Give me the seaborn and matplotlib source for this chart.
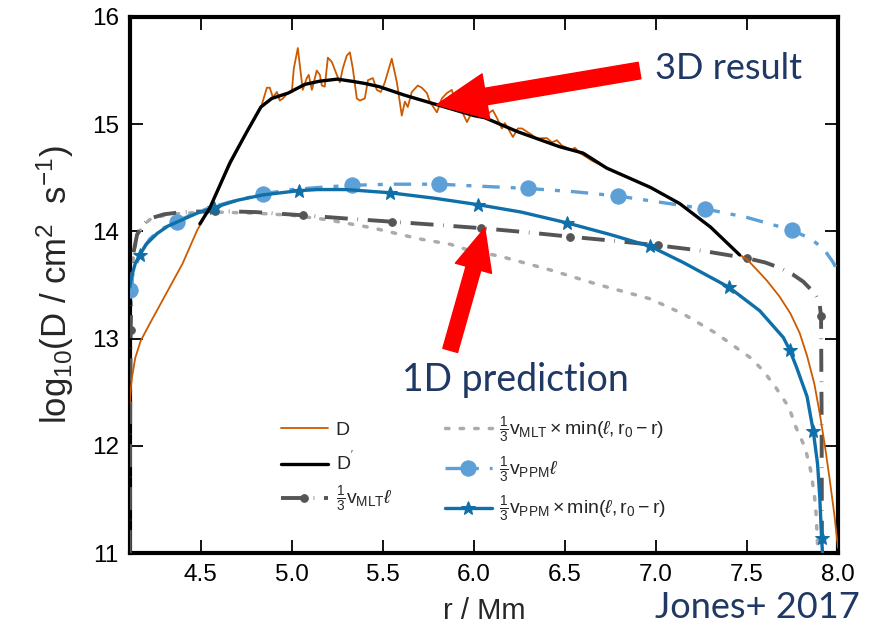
import numpy as np
import pandas as pd
import matplotlib
matplotlib.use("Agg")
import matplotlib.pyplot as plt
import seaborn as sns

# ---- diffusion coefficient profiles, log10(D / cm^2 s^-1) vs r / Mm ----
d_r = [4.11, 4.12, 4.14, 4.17, 4.22, 4.31, 4.40, 4.48, 4.55, 4.66, 4.75, 4.83,
       4.84, 4.863, 4.879, 4.896, 4.918, 4.934, 4.951, 4.978, 5.0, 5.011,
       5.033, 5.044, 5.06, 5.082, 5.093, 5.11, 5.121, 5.137, 5.154, 5.165,
       5.181, 5.198, 5.22, 5.247, 5.264, 5.28, 5.302, 5.319, 5.335, 5.357,
       5.374, 5.401, 5.418, 5.445, 5.467, 5.489, 5.511, 5.549, 5.577, 5.604,
       5.621, 5.637, 5.659, 5.692, 5.714, 5.742, 5.758, 5.797, 5.824, 5.852,
       5.879, 5.896, 5.923, 5.962, 5.989, 6.016, 6.044, 6.06, 6.088, 6.104,
       6.126, 6.154, 6.17, 6.198, 6.214, 6.242, 6.264, 6.291, 6.319, 6.346,
       6.374, 6.401, 6.429, 6.456, 6.484, 6.511, 6.538, 6.555, 6.582, 6.621,
       6.648, 6.73, 6.97, 7.13, 7.30, 7.46, 7.50, 7.55, 7.61, 7.68, 7.74, 7.79,
       7.83, 7.87, 7.90, 7.93, 7.955, 7.98, 8.00]
d_val = [12.40, 12.62, 12.82, 12.98, 13.14, 13.42, 13.70, 14.01, 14.22, 14.62, 14.92, 15.15,
         15.21, 15.34, 15.34, 15.25, 15.30, 15.22, 15.24, 15.29, 15.30, 15.52,
         15.71, 15.55, 15.32, 15.43, 15.46, 15.32, 15.39, 15.50, 15.46, 15.36,
         15.35, 15.62, 15.58, 15.46, 15.39, 15.52, 15.64, 15.67, 15.52, 15.24,
         15.22, 15.24, 15.41, 15.43, 15.32, 15.30, 15.39, 15.61, 15.39, 15.08,
         15.21, 15.16, 15.30, 15.36, 15.34, 15.29, 15.21, 15.11, 15.24, 15.29,
         15.32, 15.21, 15.16, 15.02, 15.11, 15.08, 15.18, 15.07, 15.11, 15.13,
         15.06, 14.96, 15.01, 14.93, 14.88, 14.96, 14.96, 14.93, 14.90, 14.86,
         14.87, 14.87, 14.83, 14.85, 14.80, 14.78, 14.76, 14.78, 14.73, 14.69,
         14.66, 14.59, 14.41, 14.26, 14.04, 13.78, 13.74, 13.65, 13.54, 13.39, 13.23, 13.05,
         12.84, 12.58, 12.30, 11.98, 11.68, 11.36, 11.05]

dp_r = [4.495, 4.55, 4.66, 4.75, 4.83, 4.89, 4.98, 5.07, 5.15, 5.25, 5.33, 5.40,
        5.48, 5.62, 5.80, 6.00, 6.06, 6.24, 6.47, 6.60, 6.73, 6.97, 7.13, 7.30, 7.46]
dp_val = [14.07, 14.22, 14.64, 14.92, 15.16, 15.24, 15.29, 15.37, 15.40, 15.42, 15.40, 15.38,
          15.35, 15.27, 15.18, 15.08, 15.06, 14.93, 14.79, 14.73, 14.59, 14.41, 14.26, 14.04, 13.78]

mlt_r = [4.110, 4.112, 4.115, 4.12, 4.13, 4.15, 4.18, 4.22, 4.30, 4.40, 4.58, 4.80,
         5.06, 5.30, 5.55, 5.80, 6.04, 6.30, 6.53, 6.78, 7.01, 7.25, 7.50, 7.60,
         7.68, 7.75, 7.81, 7.85, 7.88, 7.90, 7.907, 7.910, 7.912]
mlt_val = [11.0, 12.3, 13.08, 13.55, 13.80, 13.97, 14.06, 14.12, 14.16, 14.18, 14.19, 14.18,
           14.15, 14.12, 14.09, 14.06, 14.03, 13.99, 13.95, 13.91, 13.87, 13.82, 13.75, 13.71,
           13.66, 13.60, 13.53, 13.46, 13.39, 13.31, 13.21, 12.3, 11.0]
mlt_marks = [2, 10, 12, 14, 16, 18, 20, 22, 30]

mltmin_r = [4.110, 4.113, 4.12, 4.13, 4.15, 4.18, 4.22, 4.30, 4.40, 4.58, 4.80, 5.00,
            5.19, 5.45, 5.70, 5.87, 5.98, 6.14, 6.42, 6.69, 6.97, 7.15, 7.33, 7.52,
            7.59, 7.66, 7.73, 7.77, 7.82, 7.85, 7.87, 7.88, 7.89]
mltmin_val = [11.0, 12.9, 13.5, 13.78, 13.96, 14.05, 14.11, 14.15, 14.17, 14.18, 14.17, 14.15,
              14.11, 14.03, 13.93, 13.88, 13.82, 13.77, 13.64, 13.50, 13.37, 13.23, 13.05, 12.82,
              12.70, 12.54, 12.36, 12.17, 11.98, 11.77, 11.55, 11.36, 11.0]

ppm_r = [4.11, 4.13, 4.17, 4.22, 4.28, 4.37, 4.45, 4.55, 4.65, 4.75, 4.84, 5.0, 5.15,
         5.33, 5.55, 5.81, 6.05, 6.30, 6.55, 6.79, 7.03, 7.27, 7.5, 7.75, 7.85, 7.92,
         7.97, 8.0]
ppm_val = [13.45, 13.62, 13.80, 13.93, 14.02, 14.09, 14.16, 14.22, 14.27, 14.31, 14.35, 14.39,
           14.41, 14.43, 14.44, 14.44, 14.42, 14.40, 14.37, 14.33, 14.27, 14.21, 14.13, 14.01,
           13.93, 13.84, 13.72, 13.63]
ppm_marks = [0, 5, 10, 13, 15, 17, 19, 21, 23]

ppmmin_r = [4.11, 4.12, 4.14, 4.165, 4.20, 4.26, 4.32, 4.40, 4.48, 4.57, 4.70, 4.84, 5.04,
            5.14, 5.30, 5.54, 5.78, 6.02, 6.26, 6.51, 6.75, 6.97, 7.15, 7.40, 7.57, 7.70,
            7.736, 7.773, 7.83, 7.864, 7.888, 7.90, 7.91, 7.915]
ppmmin_val = [13.48, 13.58, 13.70, 13.78, 13.88, 13.98, 14.05, 14.11, 14.17, 14.22, 14.29, 14.34,
              14.38, 14.39, 14.39, 14.36, 14.31, 14.25, 14.18, 14.08, 13.97, 13.86, 13.71, 13.48,
              13.26, 13.01, 12.89, 12.73, 12.46, 12.14, 11.83, 11.52, 11.14, 11.0]
ppmmin_marks = [3, 9, 12, 15, 17, 19, 21, 23, 26, 29, 32]

x_ticks = [4.5, 5.0, 5.5, 6.0, 6.5, 7.0, 7.5, 8.0]
y_ticks = [11, 12, 13, 14, 15, 16]

labels = {
    "d": "D",
    "dp": r"D$^{'}$",
    "mlt": r"$\frac{1}{3}\mathrm{v}_{\mathrm{MLT}}\ell$",
    "mltmin": r"$\frac{1}{3}\mathrm{v}_{\mathrm{MLT}}\times\mathrm{min}(\ell,\mathrm{r}_0-\mathrm{r})$",
    "ppm": r"$\frac{1}{3}\mathrm{v}_{\mathrm{PPM}}\ell$",
    "ppmmin": r"$\frac{1}{3}\mathrm{v}_{\mathrm{PPM}}\times\mathrm{min}(\ell,\mathrm{r}_0-\mathrm{r})$",
}

NAVY = "#1F3864"

sns.set_theme(style="ticks")
plt.rcParams["font.family"] = ["Liberation Sans", "DejaVu Sans"]
plt.rcParams["mathtext.fontset"] = "custom"
plt.rcParams["mathtext.rm"] = "Liberation Sans"
plt.rcParams["mathtext.it"] = "Liberation Sans:italic"
plt.rcParams["mathtext.bf"] = "Liberation Sans:bold"

fig = plt.figure(figsize=(8.77, 6.42), dpi=100)
ax = fig.add_axes([0.148, 0.1386, 0.8075, 0.835])

def draw(r, v, **kw):
    df = pd.DataFrame({"r": r, "v": v})
    sns.lineplot(data=df, x="r", y="v", ax=ax, sort=False, estimator=None, **kw)

draw(mltmin_r, mltmin_val, color="#ababab", lw=2.5, linestyle=(0, (1.0, 3.2)),
     dash_capstyle="round", label=labels["mltmin"], zorder=2)
draw(mlt_r, mlt_val, color="#555555", lw=2.8, linestyle=(0, (5.9, 2.5, 0.15, 2.5)),
     marker="o", markersize=5.5, markevery=mlt_marks, markeredgecolor="#555555",
     markerfacecolor="#555555", label=labels["mlt"], zorder=3)
draw(ppm_r, ppm_val, color="#5DA0D8", lw=2.4, linestyle=(0, (5.2, 3.3, 1.5, 3.3)),
     marker="o", markersize=11, markevery=ppm_marks, markeredgecolor="#5DA0D8",
     markerfacecolor="#5DA0D8", label=labels["ppm"], zorder=4)
draw(ppmmin_r, ppmmin_val, color="#0F6FA8", lw=2.4, marker="*", markersize=10,
     markevery=ppmmin_marks, markeredgecolor="#0F6FA8", markerfacecolor="#0F6FA8",
     label=labels["ppmmin"], zorder=5)
draw(d_r, d_val, color="#CC5A00", lw=1.3, label=labels["d"], zorder=6)
draw(dp_r, dp_val, color="black", lw=2.4, label=labels["dp"], zorder=7)

ax.set_xlim(4.11, 8.0)
ax.set_ylim(11, 16)
ax.set_xticks(x_ticks)
ax.set_xticklabels([f"{t:.1f}" for t in x_ticks])
ax.set_yticks(y_ticks)
ax.tick_params(axis="both", which="major", direction="in", length=9.5, width=1.3,
               labelsize=17.5, top=True, right=True, colors="black", pad=8)
for s in ax.spines.values():
    s.set_linewidth(3.0)
    s.set_color("black")
    s.set_visible(True)

ax.set_xlabel("r / Mm", fontsize=21, labelpad=8)
ax.set_ylabel(r"log$_{10}$(D / cm$^{2}$  s$^{-1}$)", fontsize=25, labelpad=11)

# legend: D, D', MLT in first column; min-variants and PPM in second
h, l = ax.get_legend_handles_labels()
order = [labels[k] for k in ["d", "dp", "mlt", "mltmin", "ppm", "ppmmin"]]
hd = dict(zip(l, h))
ax.legend([hd[k] for k in order], order, ncol=2, frameon=False, fontsize=14,
          loc="upper left", bbox_to_anchor=(0.2, 0.276), borderpad=0,
          handlelength=2.4, handletextpad=0.4, columnspacing=2.7, labelspacing=0.5)

# annotation arrows and slide captions
ax.annotate("", xy=(5.795, 15.18), xytext=(6.91, 15.50),
            arrowprops=dict(arrowstyle="simple,head_length=36,head_width=33,tail_width=12",
                            mutation_scale=1, color="red", shrinkA=0, shrinkB=0),
            zorder=10, annotation_clip=False)
ax.annotate("", xy=(6.06, 14.03), xytext=(5.87, 12.89),
            arrowprops=dict(arrowstyle="simple,head_length=30,head_width=27,tail_width=11",
                            mutation_scale=1, color="red", shrinkA=0, shrinkB=0),
            zorder=10, annotation_clip=False)

fig.text(0.747, 0.894, "3D result", color=NAVY, fontsize=26, family="Lato",
         ha="left", va="center")
fig.text(0.458, 0.408, "1D prediction", color=NAVY, fontsize=27, family="Lato",
         ha="left", va="center")
fig.text(0.747, 0.053, "Jones+ 2017", color=NAVY, fontsize=26, family="Lato",
         ha="left", va="center")

fig.savefig("out.png", dpi=100)
